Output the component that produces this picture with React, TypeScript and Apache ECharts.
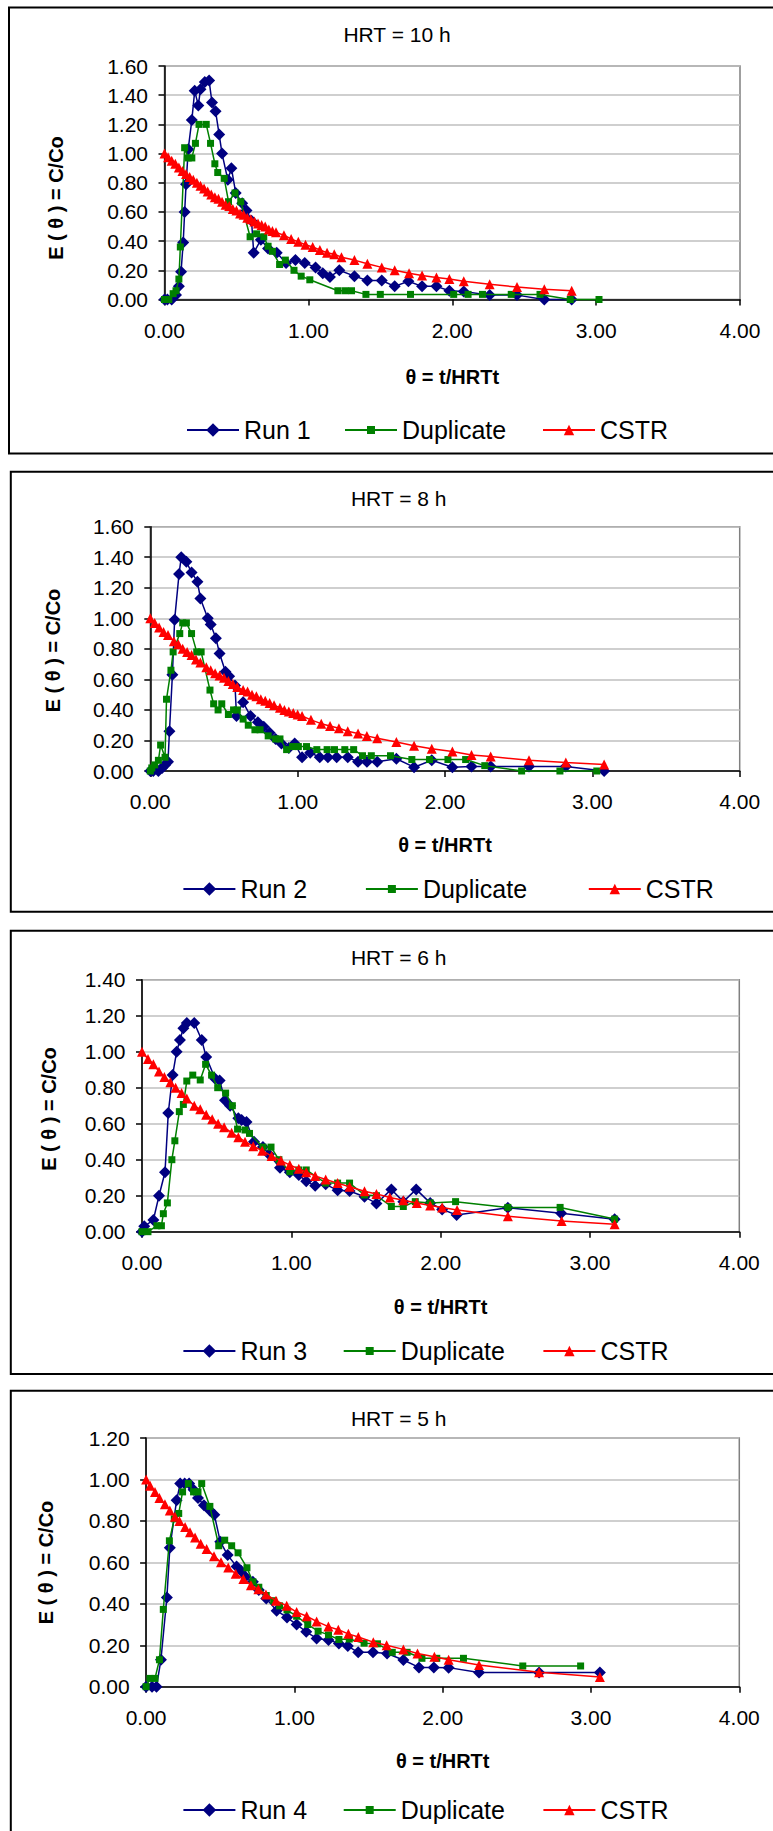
import React, { useEffect, useRef } from "react";
import * as echarts from "echarts";

// ---------------- DATA ----------------
const panelTitles = ["HRT = 10 h", "HRT = 8 h", "HRT = 6 h", "HRT = 5 h"];
const runNames = ["Run 1", "Run 2", "Run 3", "Run 4"];
const dupName = "Duplicate";
const cstrName = "CSTR";
const yMaxes = [1.6, 1.6, 1.4, 1.2];
const xAxisName = "θ = t/HRTt";
const yAxisName = "E ( θ ) = C/Co";

// Panel 1 : HRT = 10 h
const run1Theta = [0, 0.02, 0.05, 0.08, 0.1, 0.115, 0.13, 0.14, 0.15, 0.165, 0.19, 0.21, 0.235, 0.25, 0.28, 0.31, 0.33, 0.355, 0.38, 0.4, 0.44, 0.465, 0.495, 0.54, 0.57, 0.605, 0.62, 0.67, 0.72, 0.78, 0.845, 0.91, 0.975, 1.05, 1.1, 1.15, 1.215, 1.32, 1.41, 1.51, 1.6, 1.695, 1.79, 1.89, 1.98, 2.08, 2.26, 2.45, 2.64, 2.83];
const run1E = [0, 0, 0, 0.03, 0.09, 0.19, 0.39, 0.6, 0.79, 1.03, 1.23, 1.43, 1.33, 1.44, 1.49, 1.5, 1.35, 1.29, 1.13, 1.0, 0.82, 0.9, 0.73, 0.66, 0.61, 0.54, 0.32, 0.41, 0.35, 0.32, 0.25, 0.27, 0.25, 0.22, 0.18, 0.155, 0.2, 0.16, 0.13, 0.13, 0.09, 0.125, 0.09, 0.09, 0.06, 0.055, 0.03, 0.03, 0, 0];
const dup1Theta = [0, 0.03, 0.06, 0.08, 0.1, 0.11, 0.14, 0.165, 0.19, 0.215, 0.24, 0.29, 0.32, 0.35, 0.37, 0.415, 0.445, 0.49, 0.53, 0.595, 0.64, 0.69, 0.72, 0.75, 0.8, 0.84, 0.9, 0.95, 1.01, 1.205, 1.255, 1.3, 1.4, 1.5, 1.71, 2.01, 2.11, 2.21, 2.41, 2.61, 2.82, 3.02];
const dup1E = [0, 0, 0.04, 0.06, 0.14, 0.36, 1.04, 0.97, 0.97, 1.07, 1.2, 1.2, 1.07, 0.93, 0.87, 0.83, 0.67, 0.73, 0.67, 0.43, 0.45, 0.43, 0.365, 0.33, 0.24, 0.27, 0.2, 0.16, 0.135, 0.06, 0.06, 0.06, 0.035, 0.035, 0.035, 0.035, 0.035, 0.035, 0.035, 0.035, 0, 0];
const cstr1Theta = [0, 0.025, 0.05, 0.075, 0.1, 0.125, 0.15, 0.175, 0.2, 0.225, 0.25, 0.275, 0.3, 0.325, 0.35, 0.375, 0.4, 0.425, 0.45, 0.475, 0.5, 0.525, 0.55, 0.575, 0.6, 0.625, 0.65, 0.675, 0.7, 0.725, 0.75, 0.775, 0.83, 0.88, 0.93, 0.98, 1.03, 1.08, 1.13, 1.18, 1.23, 1.32, 1.41, 1.51, 1.6, 1.7, 1.79, 1.89, 1.98, 2.08, 2.26, 2.45, 2.64, 2.83];
const cstr1E = [1.0, 0.975, 0.95, 0.93, 0.905, 0.88, 0.86, 0.84, 0.82, 0.8, 0.78, 0.76, 0.74, 0.72, 0.7, 0.69, 0.67, 0.65, 0.64, 0.62, 0.61, 0.59, 0.58, 0.56, 0.55, 0.535, 0.52, 0.51, 0.5, 0.48, 0.47, 0.46, 0.44, 0.415, 0.395, 0.375, 0.36, 0.34, 0.32, 0.31, 0.29, 0.27, 0.245, 0.22, 0.2, 0.18, 0.165, 0.15, 0.14, 0.125, 0.105, 0.085, 0.07, 0.06];

// Panel 2 : HRT = 8 h
const run2Theta = [0, 0.02, 0.055, 0.08, 0.1, 0.12, 0.13, 0.15, 0.165, 0.195, 0.21, 0.245, 0.28, 0.32, 0.34, 0.39, 0.41, 0.445, 0.47, 0.51, 0.535, 0.575, 0.585, 0.63, 0.68, 0.73, 0.77, 0.81, 0.85, 0.89, 0.94, 0.98, 1.03, 1.085, 1.15, 1.205, 1.265, 1.34, 1.41, 1.47, 1.54, 1.67, 1.79, 1.91, 2.05, 2.18, 2.31, 2.57, 2.82, 3.08];
const run2E = [0, 0, 0, 0.02, 0.04, 0.06, 0.26, 0.63, 0.99, 1.29, 1.4, 1.37, 1.3, 1.24, 1.13, 1.0, 0.96, 0.87, 0.77, 0.65, 0.62, 0.56, 0.36, 0.45, 0.36, 0.32, 0.29, 0.25, 0.21, 0.18, 0.15, 0.18, 0.09, 0.12, 0.09, 0.09, 0.09, 0.09, 0.06, 0.06, 0.06, 0.08, 0.025, 0.07, 0.025, 0.03, 0.03, 0.03, 0.03, 0];
const dup2Theta = [0, 0.01, 0.03, 0.055, 0.07, 0.1, 0.11, 0.14, 0.155, 0.2, 0.22, 0.245, 0.28, 0.315, 0.345, 0.405, 0.43, 0.46, 0.485, 0.53, 0.565, 0.59, 0.63, 0.665, 0.71, 0.745, 0.8, 0.85, 0.88, 0.925, 0.965, 1.005, 1.06, 1.13, 1.2, 1.25, 1.32, 1.38, 1.44, 1.5, 1.63, 1.775, 1.895, 2.02, 2.14, 2.27, 2.52, 2.78, 3.03];
const dup2E = [0, 0.02, 0.04, 0.07, 0.17, 0.09, 0.47, 0.66, 0.78, 0.9, 0.97, 0.97, 0.9, 0.78, 0.78, 0.53, 0.44, 0.4, 0.44, 0.37, 0.4, 0.4, 0.34, 0.3, 0.27, 0.27, 0.23, 0.21, 0.21, 0.14, 0.16, 0.16, 0.16, 0.14, 0.14, 0.14, 0.14, 0.14, 0.1, 0.1, 0.1, 0.075, 0.075, 0.075, 0.075, 0.035, 0, 0, 0];
const cstr2Theta = [0, 0.03, 0.06, 0.09, 0.12, 0.16, 0.19, 0.22, 0.25, 0.28, 0.31, 0.34, 0.38, 0.41, 0.44, 0.47, 0.5, 0.53, 0.56, 0.59, 0.63, 0.66, 0.69, 0.72, 0.75, 0.78, 0.81, 0.84, 0.88, 0.91, 0.94, 0.97, 1.0, 1.03, 1.09, 1.16, 1.22, 1.28, 1.34, 1.41, 1.47, 1.54, 1.67, 1.79, 1.91, 2.05, 2.18, 2.31, 2.57, 2.82, 3.08];
const cstr2E = [1.0, 0.97, 0.94, 0.91, 0.89, 0.85, 0.83, 0.8, 0.78, 0.76, 0.73, 0.71, 0.68, 0.66, 0.64, 0.625, 0.61, 0.59, 0.57, 0.55, 0.53, 0.52, 0.5, 0.49, 0.47, 0.46, 0.445, 0.43, 0.415, 0.4, 0.39, 0.38, 0.37, 0.36, 0.335, 0.31, 0.295, 0.28, 0.26, 0.245, 0.23, 0.215, 0.19, 0.165, 0.145, 0.128, 0.105, 0.095, 0.07, 0.055, 0.043];

// Panel 3 : HRT = 6 h
const run3Theta = [0, 0.015, 0.076, 0.114, 0.154, 0.176, 0.205, 0.232, 0.254, 0.277, 0.3, 0.35, 0.4, 0.43, 0.49, 0.52, 0.556, 0.59, 0.645, 0.667, 0.7, 0.75, 0.81, 0.85, 0.924, 0.99, 1.05, 1.1, 1.16, 1.23, 1.31, 1.39, 1.49, 1.57, 1.67, 1.75, 1.836, 1.93, 2.01, 2.107, 2.45, 2.807, 3.165];
const run3E = [0, 0.03, 0.065, 0.2, 0.33, 0.66, 0.87, 1.0, 1.065, 1.13, 1.16, 1.16, 1.065, 0.97, 0.85, 0.84, 0.73, 0.7, 0.63, 0.62, 0.61, 0.5, 0.47, 0.43, 0.355, 0.33, 0.315, 0.28, 0.255, 0.263, 0.23, 0.226, 0.194, 0.157, 0.235, 0.167, 0.235, 0.16, 0.124, 0.093, 0.133, 0.102, 0.069];
const dup3Theta = [0, 0.04, 0.1, 0.13, 0.143, 0.17, 0.2, 0.22, 0.25, 0.277, 0.3, 0.34, 0.39, 0.426, 0.466, 0.507, 0.56, 0.605, 0.64, 0.69, 0.72, 0.81, 0.864, 0.917, 0.99, 1.05, 1.1, 1.23, 1.31, 1.39, 1.49, 1.57, 1.67, 1.75, 1.83, 1.93, 2.1, 2.45, 2.8, 3.165];
const dup3E = [0, 0, 0.033, 0.033, 0.1, 0.16, 0.4, 0.505, 0.667, 0.707, 0.837, 0.87, 0.843, 0.93, 0.87, 0.8, 0.77, 0.7, 0.57, 0.565, 0.546, 0.47, 0.47, 0.4, 0.333, 0.343, 0.343, 0.27, 0.27, 0.27, 0.204, 0.2, 0.14, 0.14, 0.167, 0.16, 0.167, 0.135, 0.135, 0.07];
const cstr3Theta = [0, 0.04, 0.076, 0.114, 0.15, 0.19, 0.225, 0.265, 0.3, 0.35, 0.39, 0.43, 0.47, 0.51, 0.55, 0.6, 0.645, 0.69, 0.745, 0.805, 0.868, 0.93, 0.99, 1.05, 1.1, 1.16, 1.23, 1.31, 1.39, 1.49, 1.57, 1.66, 1.75, 1.84, 1.93, 2.01, 2.11, 2.45, 2.81, 3.165];
const cstr3E = [1.0, 0.96, 0.93, 0.89, 0.86, 0.83, 0.8, 0.77, 0.74, 0.7, 0.68, 0.65, 0.625, 0.6, 0.58, 0.55, 0.525, 0.5, 0.475, 0.45, 0.42, 0.395, 0.37, 0.35, 0.33, 0.31, 0.29, 0.27, 0.25, 0.225, 0.21, 0.19, 0.175, 0.16, 0.145, 0.134, 0.12, 0.086, 0.06, 0.042];

// Panel 4 : HRT = 5 h
const run4Theta = [0, 0.04, 0.07, 0.1, 0.14, 0.16, 0.206, 0.23, 0.26, 0.29, 0.32, 0.35, 0.39, 0.43, 0.46, 0.5, 0.55, 0.61, 0.64, 0.67, 0.72, 0.76, 0.81, 0.88, 0.95, 1.015, 1.08, 1.15, 1.23, 1.3, 1.36, 1.43, 1.53, 1.625, 1.735, 1.84, 1.94, 2.04, 2.245, 2.65, 3.06];
const run4E = [0, 0, 0, 0.13, 0.43, 0.67, 0.9, 0.98, 0.98, 0.98, 0.95, 0.91, 0.876, 0.85, 0.83, 0.7, 0.635, 0.58, 0.56, 0.53, 0.506, 0.466, 0.426, 0.367, 0.334, 0.3, 0.265, 0.233, 0.225, 0.209, 0.196, 0.166, 0.166, 0.16, 0.129, 0.093, 0.093, 0.092, 0.068, 0.068, 0.068];
const dup4Theta = [0, 0.026, 0.06, 0.09, 0.116, 0.157, 0.19, 0.22, 0.246, 0.285, 0.32, 0.35, 0.375, 0.43, 0.49, 0.53, 0.577, 0.62, 0.68, 0.72, 0.76, 0.81, 0.86, 0.9, 0.95, 1.015, 1.09, 1.16, 1.23, 1.3, 1.37, 1.47, 1.56, 1.66, 1.76, 1.86, 1.96, 2.14, 2.54, 2.93];
const dup4E = [0, 0.04, 0.04, 0.13, 0.373, 0.704, 0.81, 0.836, 0.94, 0.98, 0.94, 0.94, 0.98, 0.87, 0.68, 0.707, 0.68, 0.646, 0.574, 0.506, 0.48, 0.44, 0.415, 0.39, 0.37, 0.34, 0.3, 0.268, 0.25, 0.228, 0.23, 0.21, 0.207, 0.166, 0.166, 0.137, 0.137, 0.137, 0.1, 0.1];
const cstr4Theta = [0, 0.027, 0.06, 0.09, 0.127, 0.16, 0.195, 0.225, 0.263, 0.296, 0.33, 0.368, 0.408, 0.458, 0.505, 0.554, 0.604, 0.656, 0.707, 0.757, 0.808, 0.876, 0.948, 1.015, 1.083, 1.15, 1.229, 1.296, 1.364, 1.431, 1.532, 1.622, 1.735, 1.83, 1.944, 2.04, 2.245, 2.65, 3.06];
const cstr4E = [1.0, 0.97, 0.94, 0.91, 0.88, 0.85, 0.82, 0.8, 0.77, 0.745, 0.72, 0.69, 0.665, 0.63, 0.6, 0.575, 0.545, 0.52, 0.49, 0.47, 0.445, 0.415, 0.39, 0.36, 0.34, 0.315, 0.29, 0.275, 0.255, 0.24, 0.215, 0.2, 0.18, 0.16, 0.145, 0.13, 0.105, 0.07, 0.047];

const panelSeries = [
  [[run1Theta, run1E], [dup1Theta, dup1E], [cstr1Theta, cstr1E]],
  [[run2Theta, run2E], [dup2Theta, dup2E], [cstr2Theta, cstr2E]],
  [[run3Theta, run3E], [dup3Theta, dup3E], [cstr3Theta, cstr3E]],
  [[run4Theta, run4E], [dup4Theta, dup4E], [cstr4Theta, cstr4E]],
];

// ---------------- LAYOUT & STYLE ----------------
const FONT = '"Liberation Sans", Arial, Helvetica, sans-serif';

const LAYOUT = [
  { frameLeft: 9, frameTop: 7.5, frameBottom: 453.5, left: 164.5, top: 66, width: 575.5, height: 233.5, titleX: 397, titleY: 34, yNameX: 55.5, yNameY: 198, nameGap: 67, legendCenter: 430, legendLeft: [186, 344, 542] },
  { frameLeft: 10.8, frameTop: 471.7, frameBottom: 911.7, left: 150.3, top: 526.7, width: 589.4, height: 244.3, titleX: 398.7, titleY: 498, yNameX: 53, yNameY: 650.5, nameGap: 64, legendCenter: 889, legendLeft: [182.4, 364.9, 587.8] },
  { frameLeft: 10.8, frameTop: 930.7, frameBottom: 1374, left: 142, top: 979.7, width: 597.3, height: 252, titleX: 398.7, titleY: 957, yNameX: 49, yNameY: 1109, nameGap: 65, legendCenter: 1351, legendLeft: [182.4, 342.7, 542.4] },
  { frameLeft: 10.8, frameTop: 1390.7, frameBottom: 1900, left: 146.1, top: 1438, width: 593.2, height: 248.7, titleX: 398.7, titleY: 1418, yNameX: 45.5, yNameY: 1562.5, nameGap: 64, legendCenter: 1810, legendLeft: [182.4, 342.7, 542.4] },
];

const STYLES = [
  { color: "#000080", symbol: "diamond", symbolSize: 12, legendH: 17, z: 3 },
  { color: "#008000", symbol: "rect", symbolSize: 7, legendH: 10, z: 4 },
  { color: "#FF0000", symbol: "triangle", symbolSize: 10, legendH: 13, z: 5 },
];

function buildOption() {
  const grid: any[] = [];
  const xAxis: any[] = [];
  const yAxis: any[] = [];
  const series: any[] = [];
  const legend: any[] = [];
  const graphic: any[] = [];

  LAYOUT.forEach((L, i) => {
    grid.push({
      left: L.left, top: L.top, width: L.width, height: L.height,
      show: true, backgroundColor: "transparent", borderColor: "#808080", borderWidth: 1.5,
      containLabel: false, outerBoundsMode: "none",
    });
    xAxis.push({
      type: "value", gridIndex: i, min: 0, max: 4, interval: 1,
      name: xAxisName, nameLocation: "middle", nameGap: L.nameGap,
      nameTextStyle: { fontFamily: FONT, fontSize: 20, fontWeight: "bold", color: "#000" },
      axisLine: { show: true, onZero: false, lineStyle: { color: "#000", width: 1.5 } },
      axisTick: { show: true, inside: false, length: 6, lineStyle: { color: "#000", width: 1.5 } },
      axisLabel: { margin: 20, fontFamily: FONT, fontSize: 21, color: "#000", formatter: (v: number) => v.toFixed(2) },
      splitLine: { show: false },
    });
    yAxis.push({
      type: "value", gridIndex: i, min: 0, max: yMaxes[i], interval: 0.2,
      axisLine: { show: true, onZero: false, lineStyle: { color: "#000", width: 1.5 } },
      axisTick: { show: true, inside: false, length: 6, lineStyle: { color: "#000", width: 1.5 } },
      axisLabel: { margin: 16.5, fontFamily: FONT, fontSize: 21, color: "#000", formatter: (v: number) => v.toFixed(2) },
      splitLine: { show: true, lineStyle: { color: "#BFBFBF", width: 1.5 } },
    });

    const names = [runNames[i], dupName, cstrName];
    panelSeries[i].forEach(([theta, e], j) => {
      const S = STYLES[j];
      series.push({
        type: "line", name: names[j], xAxisIndex: i, yAxisIndex: i,
        data: theta.map((t, k) => [t, e[k]]),
        symbol: S.symbol, symbolSize: S.symbolSize, showSymbol: true,
        lineStyle: { color: S.color, width: 1.5 },
        itemStyle: { color: S.color, borderWidth: 0 },
        clip: false, z: S.z, silent: true,
        emphasis: { disabled: true },
      });
      legend.push({
        show: true, orient: "horizontal", left: L.legendLeft[j], top: L.legendCenter - 12.5,
        padding: 0, itemGap: 0, itemWidth: 52, itemHeight: S.legendH,
        selectedMode: false, data: [names[j]],
        textStyle: { fontFamily: FONT, fontSize: 25, color: "#000" },
      });
    });

    graphic.push({
      type: "rect", silent: true, z: 0,
      shape: { x: L.frameLeft, y: L.frameTop, width: 800, height: L.frameBottom - L.frameTop },
      style: { fill: "none", stroke: "#000", lineWidth: 2 },
    });
    graphic.push({
      type: "text", silent: true, x: L.titleX, y: L.titleY,
      style: {
        text: panelTitles[i], fontFamily: FONT, fontSize: 21, fill: "#000",
        align: "center", verticalAlign: "middle", textAlign: "center", textVerticalAlign: "middle",
      },
    });
    graphic.push({
      type: "text", silent: true, x: L.yNameX, y: L.yNameY, rotation: Math.PI / 2,
      style: {
        text: yAxisName, fontFamily: FONT, fontSize: 20, fontWeight: "bold", fill: "#000",
        align: "center", verticalAlign: "middle", textAlign: "center", textVerticalAlign: "middle",
      },
    });
  });

  return {
    animation: false,
    backgroundColor: "#ffffff",
    textStyle: { fontFamily: FONT },
    grid, xAxis, yAxis, series, legend, graphic,
  };
}

export default function App() {
  const ref = useRef<HTMLDivElement>(null);
  useEffect(() => {
    if (!ref.current) return;
    const chart = echarts.init(ref.current, null, { renderer: "svg" });
    chart.setOption(buildOption() as any);
    return () => chart.dispose();
  }, []);
  return (
    <div
      ref={ref}
      style={{ position: "absolute", left: 0, top: 0, width: 773, height: 1831, background: "#fff" }}
    />
  );
}
